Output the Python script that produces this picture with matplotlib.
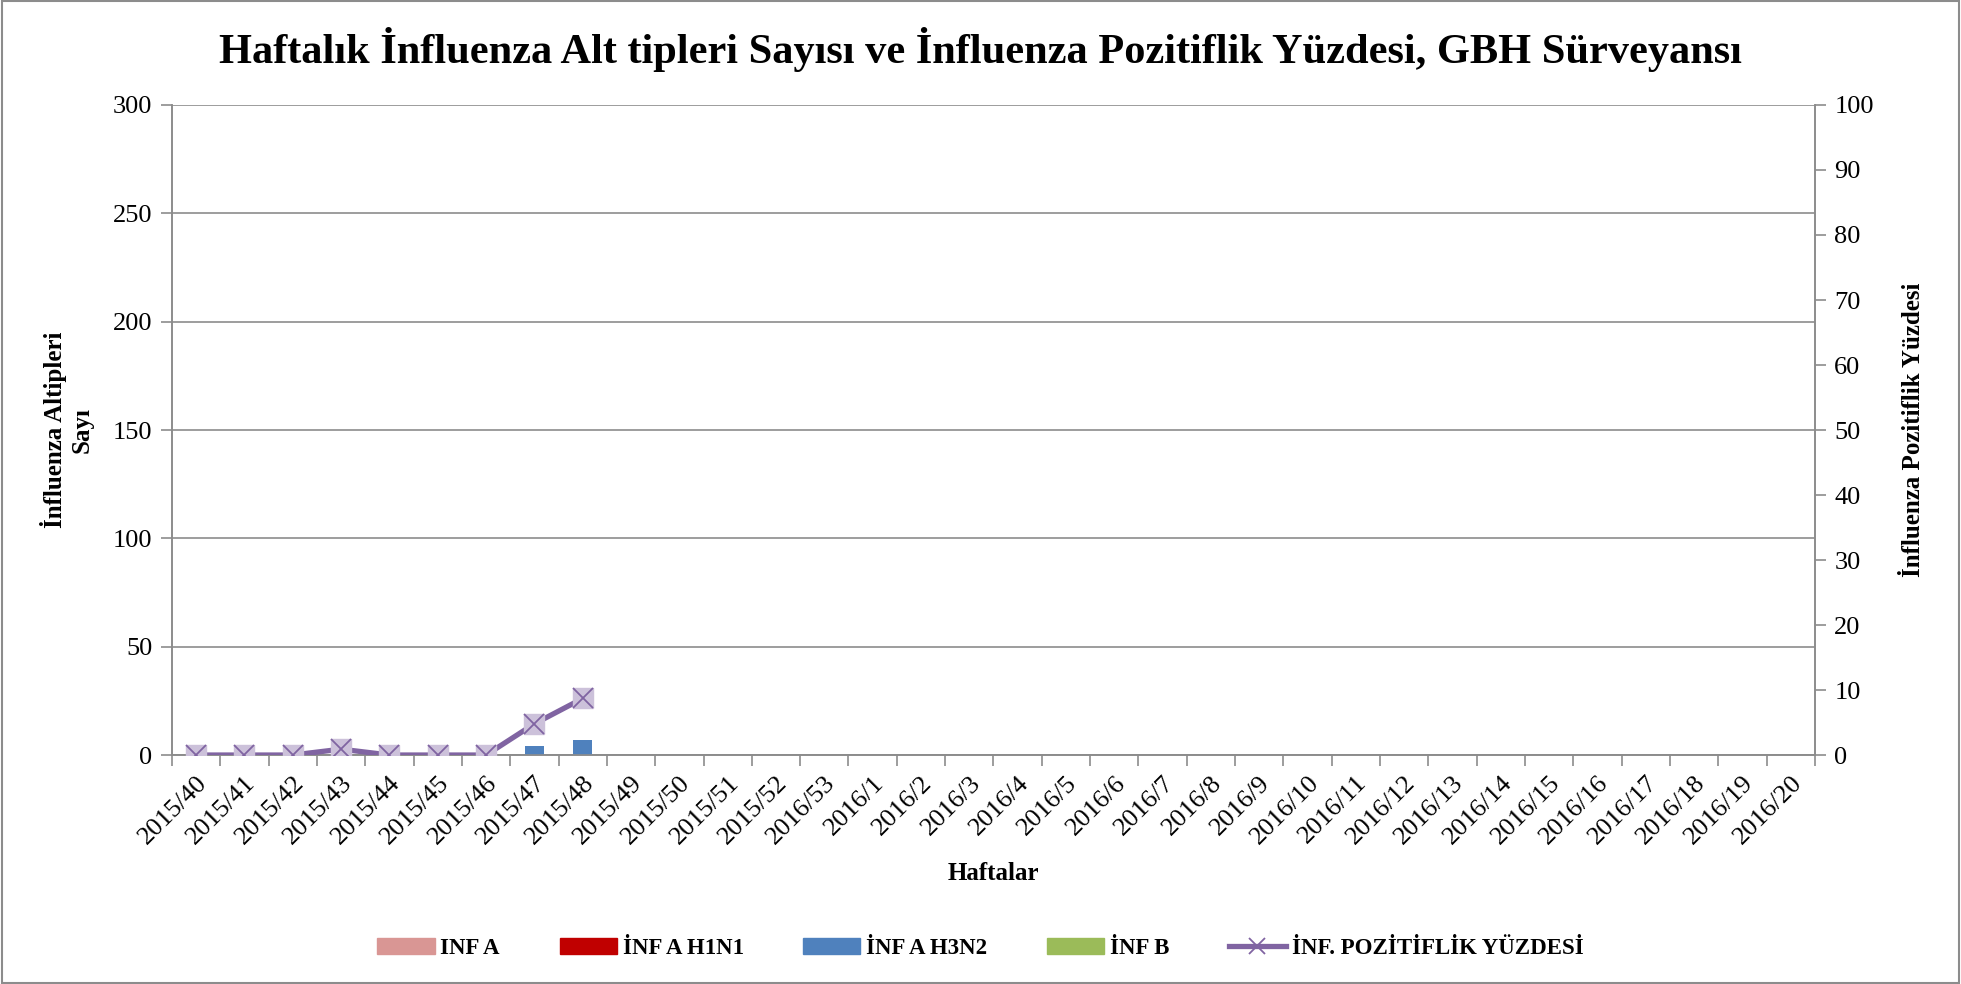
import matplotlib.pyplot as plt
from matplotlib.lines import Line2D
from matplotlib.patches import Patch, Rectangle

plt.rcParams['font.family'] = ['Liberation Serif', 'DejaVu Serif']

# weeks
weeks = ['2015/%d' % w for w in range(40, 53)] + ['2016/53'] + ['2016/%d' % w for w in range(1, 21)]

# subtype counts (only first weeks reported)
inf_a = [0, 0, 0, 0, 0, 0, 0, 0, 0]
inf_a_h1n1 = [0, 0, 0, 0, 0, 0, 0, 0, 0]
inf_a_h3n2 = [0, 0, 0, 0, 0, 0, 0, 4, 7]
inf_b = [0, 0, 0, 0, 0, 0, 0, 0, 0]
# positivity percentage
positivity = [0, 0, 0, 0.9, 0, 0, 0, 4.8, 8.7]

fig = plt.figure(figsize=(19.61, 9.84), dpi=100)
ax = fig.add_axes([0.0877, 0.2327, 0.8378, 0.6606])
ax2 = ax.twinx()

x = list(range(len(inf_a)))
bottom = [0] * len(x)
for vals, col in [(inf_a, '#D99694'), (inf_a_h1n1, '#C00000'),
                  (inf_a_h3n2, '#4F81BD'), (inf_b, '#9BBB59')]:
    ax.bar(x, vals, width=0.4, bottom=bottom, color=col, zorder=3)
    bottom = [b + v for b, v in zip(bottom, vals)]

ax2.plot(x, positivity, color='#8064A2', lw=3.8, zorder=4)
ax2.plot(x, positivity, ls='none', marker='s', ms=14.5, mfc='#CCC1DA', mec='#CCC1DA', zorder=5)
ax2.plot(x, positivity, ls='none', marker='x', ms=14, mew=1.3, color='#8064A2', zorder=6)

grid_c = '#8C8C8C'
ax.set_xlim(-0.5, len(weeks) - 0.5)
ax.set_ylim(0, 300)
ax.set_yticks(range(0, 301, 50))
ax.yaxis.grid(True, color=grid_c, lw=1.2)
ax.set_axisbelow(True)
ax2.set_ylim(0, 100)
ax2.set_yticks(range(0, 101, 10))

ax.set_xticks(range(len(weeks)))
ax.set_xticklabels(weeks, rotation=45, ha='right', rotation_mode='anchor', fontsize=19)
ax.set_xticks([i - 0.5 for i in range(len(weeks) + 1)], minor=True)
ax.tick_params(axis='x', which='major', length=0, pad=12)
ax.tick_params(axis='x', which='minor', length=8, color=grid_c, width=1.2)
ax.tick_params(axis='y', labelsize=19, length=8, color=grid_c, width=1.2, pad=6)
ax2.tick_params(axis='y', labelsize=19, length=8, color=grid_c, width=1.2, pad=6)

for a in (ax, ax2):
    a.spines['top'].set_visible(False)
    for s in ('left', 'right', 'bottom'):
        a.spines[s].set_color(grid_c)
        a.spines[s].set_linewidth(1.2)

ax.set_xlabel('Haftalar', fontsize=18, fontweight='bold', labelpad=10)
ax.set_ylabel('İnfluenza Altipleri\nSayı', fontsize=18, fontweight='bold', labelpad=14)
ax2.set_ylabel('İnfluenza Pozitiflik Yüzdesi', fontsize=18, fontweight='bold', labelpad=20)

fig.text(0.5, 0.95, 'Haftalık İnfluenza Alt tipleri Sayısı ve İnfluenza Pozitiflik Yüzdesi, GBH Sürveyansı',
         ha='center', va='center', fontsize=30.5, fontweight='bold')

handles = [Patch(color='#D99694'), Patch(color='#C00000'), Patch(color='#4F81BD'),
           Patch(color='#9BBB59'),
           Line2D([], [], color='#8064A2', lw=3.8, marker='x', ms=11, mew=1.3)]
labels = ['INF A', 'İNF A H1N1', 'İNF A H3N2', 'İNF B', 'İNF. POZİTİFLİK YÜZDESİ']
fig.legend(handles, labels, loc='center', bbox_to_anchor=(0.5, 0.036), ncol=5, frameon=False,
           prop={'weight': 'bold', 'size': 16.5}, handlelength=2.5, handleheight=0.7,
           columnspacing=2.6, handletextpad=0.25)

fig.add_artist(Rectangle((0.001, 0.001), 0.998, 0.998, transform=fig.transFigure,
                         fill=False, ec=grid_c, lw=1.5))

fig.savefig('out.png', dpi=100)
